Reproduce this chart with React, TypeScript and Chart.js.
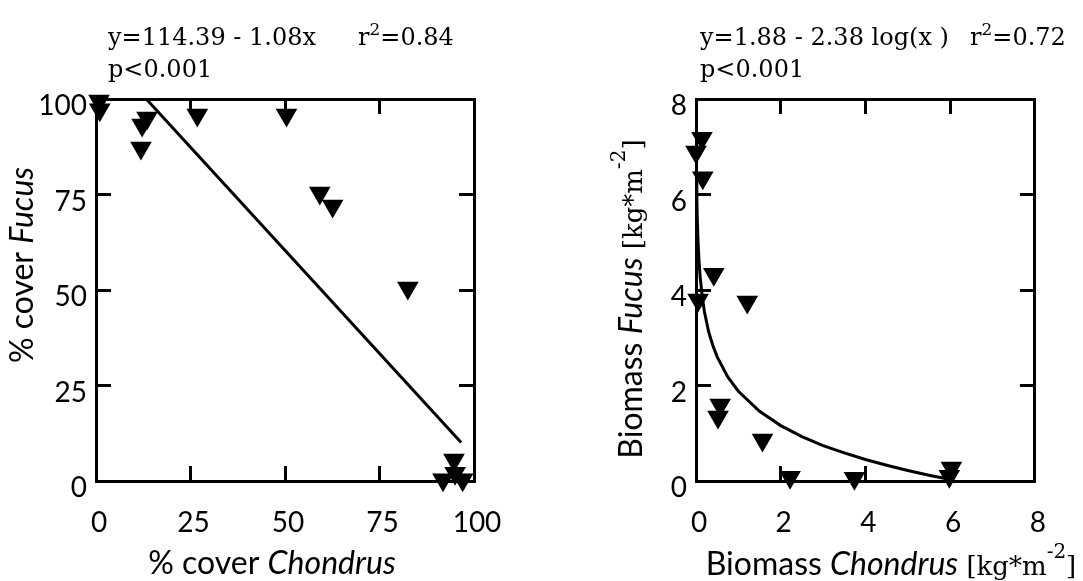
import React, { useEffect, useRef } from 'react';
import { Chart, registerables } from 'chart.js';

Chart.register(...registerables);

// ---------- Left panel data (% cover) ----------
const coverChondrus = [1, 0.8, 12.2, 13.5, 11.9, 26.8, 50.4, 59.2, 62.6, 82.5, 91.8, 94.7, 97, 95];
const coverFucus = [97.2, 99.5, 93.2, 95, 87.2, 95.8, 95.8, 75.4, 72, 50.5, 0.3, 5.5, 0.3, 2];
const coverFitX = [13.3, 96.6];
const coverFitY = [100, 10.1];
const coverTicks = [0, 25, 50, 75, 100];

// ---------- Right panel data (biomass) ----------
const bioChondrus = [0.14, 0.0, 0.16, 0.42, 0.05, 1.21, 0.57, 0.52, 1.57, 2.22, 3.74, 6.03, 5.98];
const bioFucus = [7.18, 6.89, 6.35, 4.33, 3.79, 3.75, 1.59, 1.34, 0.86, 0.08, 0.06, 0.27, 0.1];
const bioCurveX = [0.012, 0.02, 0.03, 0.05, 0.075, 0.1, 0.15, 0.2, 0.3, 0.4, 0.5, 0.75, 1, 1.5, 2, 2.5, 3, 3.5, 4, 4.5, 5, 5.5, 6];
const bioCurveY = [6.45, 5.92, 5.5, 4.98, 4.56, 4.26, 3.84, 3.54, 3.12, 2.83, 2.6, 2.18, 1.88, 1.46, 1.16, 0.93, 0.74, 0.59, 0.45, 0.33, 0.22, 0.12, 0.03];
const bioTicks = [0, 2, 4, 6, 8];

const leftNote1 = 'y=114.39 - 1.08x';
const leftNoteR = ['r', '2', '=0.84'];
const rightNote1 = 'y=1.88 - 2.38 log(x )';
const rightNoteR = ['r', '2', '=0.72'];
const pNote = 'p<0.001';

const SANS = 'Lato';
const SERIF = '"DejaVu Serif"';
const annFont = `24px ${SERIF}`;
const annSup = `17px ${SERIF}`;
const tSans = `32px ${SANS}`;
const tSansI = `italic 32px ${SANS}`;
const tSerif = `26px ${SERIF}`;
const tSerifSup = `20px ${SERIF}`;

type Run = { t: string; font: string; dy?: number };
type TextItem = { runs: Run[]; x: number; y: number; align: 'left' | 'center'; rot?: number };

function drawRuns(ctx: CanvasRenderingContext2D, item: TextItem) {
  ctx.save();
  ctx.translate(item.x, item.y);
  if (item.rot) ctx.rotate(item.rot);
  ctx.textBaseline = 'alphabetic';
  ctx.textAlign = 'left';
  ctx.fillStyle = '#000';
  let w = 0;
  for (const r of item.runs) {
    ctx.font = r.font;
    w += ctx.measureText(r.t).width;
  }
  let cx = item.align === 'center' ? -w / 2 : 0;
  for (const r of item.runs) {
    ctx.font = r.font;
    ctx.fillText(r.t, cx, -(r.dy || 0));
    cx += ctx.measureText(r.t).width;
  }
  ctx.restore();
}

function textPlugin(items: TextItem[]) {
  return {
    id: 'panelTexts',
    afterDraw(chart: any) {
      for (const it of items) drawRuns(chart.ctx, it);
    },
  };
}

function axis(pos: string, min: number, max: number, ticksList: number[], showLabels: boolean, fit: number, labelOffset: number, padding: number) {
  return {
    type: 'linear',
    position: pos,
    min,
    max,
    afterBuildTicks: (s: any) => {
      s.ticks = ticksList.map((v) => ({ value: v }));
    },
    ticks: {
      display: showLabels,
      font: { family: SANS, size: 28 },
      color: '#000',
      padding,
      labelOffset,
      maxRotation: 0,
      autoSkip: false,
    },
    grid: { drawOnChartArea: false, drawTicks: true, tickLength: -15, tickWidth: 3, tickColor: '#000' },
    border: { display: true, color: '#000', width: 3 },
    afterFit: (s: any) => {
      if (pos === 'left' || pos === 'right') s.width = fit;
      else s.height = fit;
    },
  };
}

function buildConfig(
  px: number[], py: number[], lx: number[], ly: number[],
  xMax: number, yMax: number, xTicks: number[], yTicks: number[],
  fits: { left: number; right: number; top: number; bottom: number },
  texts: TextItem[],
) {
  return {
    type: 'scatter',
    data: {
      datasets: [
        {
          data: px.map((x, i) => ({ x, y: py[i] })),
          pointStyle: 'triangle',
          rotation: 180,
          pointRadius: 12.5,
          pointBackgroundColor: '#000',
          pointBorderWidth: 0,
          backgroundColor: '#000',
          borderWidth: 0,
          clip: false,
        },
        {
          data: lx.map((x, i) => ({ x, y: ly[i] })),
          showLine: true,
          pointRadius: 0,
          borderColor: '#000',
          borderWidth: 3,
          fill: false,
          tension: 0,
          clip: false,
        },
      ],
    },
    options: {
      animation: false,
      responsive: false,
      events: [],
      layout: { padding: 0 },
      plugins: { legend: { display: false }, tooltip: { enabled: false } },
      scales: {
        x: axis('bottom', 0, xMax, xTicks, true, fits.bottom, 3, 40),
        x2: axis('top', 0, xMax, xTicks, false, fits.top, 0, 0),
        y: axis('left', 0, yMax, yTicks, true, fits.left, 7, 24),
        y2: axis('right', 0, yMax, yTicks, false, fits.right, 0, 0),
      },
    },
    plugins: [textPlugin(texts)],
  };
}

const LEFT_W = 540;
const RIGHT_W = 543;
const H = 581;

function Panel(props: { config: any; width: number }) {
  const ref = useRef<HTMLCanvasElement>(null);
  useEffect(() => {
    if (!ref.current) return;
    const chart = new Chart(ref.current, props.config);
    return () => chart.destroy();
  }, []);
  return <canvas ref={ref} width={props.width} height={H} style={{ display: 'block', width: props.width, height: H }} />;
}

export default function App() {
  const ROT = -Math.PI / 2;
  const leftTexts: TextItem[] = [
    { runs: [{ t: leftNote1, font: annFont }], x: 108, y: 45, align: 'left' },
    { runs: [{ t: leftNoteR[0], font: annFont }, { t: leftNoteR[1], font: annSup, dy: 10 }, { t: leftNoteR[2], font: annFont }], x: 358, y: 45, align: 'left' },
    { runs: [{ t: pNote, font: annFont }], x: 108, y: 77, align: 'left' },
    { runs: [{ t: '% cover ', font: tSans }, { t: 'Chondrus', font: tSansI }], x: 272, y: 574, align: 'center' },
    { runs: [{ t: '% cover ', font: tSans }, { t: 'Fucus', font: tSansI }], x: 33, y: 265, align: 'center', rot: ROT },
  ];
  const o = LEFT_W;
  const rightTexts: TextItem[] = [
    { runs: [{ t: rightNote1, font: annFont }], x: 700 - o, y: 45, align: 'left' },
    { runs: [{ t: rightNoteR[0], font: annFont }, { t: rightNoteR[1], font: annSup, dy: 10 }, { t: rightNoteR[2], font: annFont }], x: 970 - o, y: 45, align: 'left' },
    { runs: [{ t: pNote, font: annFont }], x: 700 - o, y: 77, align: 'left' },
    {
      runs: [
        { t: 'Biomass ', font: tSans },
        { t: 'Chondrus', font: tSansI },
        { t: ' [kg*m', font: tSerif },
        { t: '-2', font: tSerifSup, dy: 17 },
        { t: ']', font: tSerif },
      ],
      x: 891 - o, y: 575, align: 'center',
    },
    {
      runs: [
        { t: 'Biomass ', font: tSans },
        { t: 'Fucus', font: tSansI },
        { t: ' [kg*m', font: tSerif },
        { t: '-2', font: tSerifSup, dy: 17 },
        { t: ']', font: tSerif },
      ],
      x: 642 - o, y: 299, align: 'center', rot: ROT,
    },
  ];

  const leftConfig = buildConfig(
    coverChondrus, coverFucus, coverFitX, coverFitY, 100, 100, coverTicks, coverTicks,
    { left: 96, right: LEFT_W - 474, top: 99, bottom: H - 481 }, leftTexts,
  );
  const rightConfig = buildConfig(
    bioChondrus, bioFucus, bioCurveX, bioCurveY, 8, 8, bioTicks, bioTicks,
    { left: 156, right: RIGHT_W - 529, top: 99, bottom: H - 481 }, rightTexts,
  );

  return (
    <div style={{ position: 'fixed', left: 0, top: 0, width: 1083, height: H, background: '#fff', display: 'flex' }}>
      <Panel config={leftConfig} width={LEFT_W} />
      <Panel config={rightConfig} width={RIGHT_W} />
    </div>
  );
}
